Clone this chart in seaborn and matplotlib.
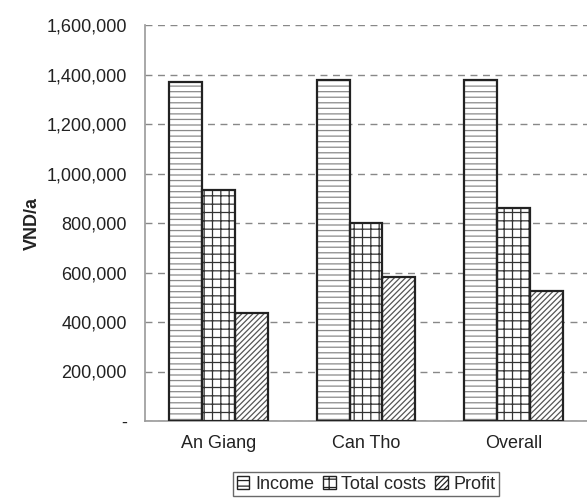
import matplotlib
matplotlib.use("Agg")
import matplotlib.pyplot as plt
import matplotlib.patches as mpatches
import seaborn as sns
import pandas as pd
from matplotlib.ticker import FuncFormatter, FixedLocator

categories = ["An Giang", "Can Tho", "Overall"]
series = ["Income", "Total costs", "Profit"]
income = [1371000, 1376000, 1377000]
total_costs = [933000, 800000, 859000]
profit = [438000, 580000, 524000]
y_ticks = [0, 200000, 400000, 600000, 800000, 1000000, 1200000, 1400000, 1600000]

rows = []
for s, vals in zip(series, [income, total_costs, profit]):
    for c, v in zip(categories, vals):
        rows.append({"Region": c, "Series": s, "Value": v})
df = pd.DataFrame(rows)

sns.set_theme(style="white")
plt.rcParams['font.family'] = ['Liberation Sans', 'DejaVu Sans']
plt.rcParams['hatch.linewidth'] = 0.9

fig = plt.figure(figsize=(5.87, 4.98), dpi=100)
ax = fig.add_axes([145/587, 1 - 421/498, 442/587, (421-25)/498])

sns.barplot(data=df, x="Region", y="Value", hue="Series", order=categories,
            hue_order=series, palette=["white"]*3, width=0.67, saturation=1,
            edgecolor="#222222", linewidth=0, legend=False, ax=ax, zorder=3)

hatches = ["---", "++", "//////"]
hcolors = ["#8a8a8a", "#333333", "#555555"]
for cont, h, hc in zip(ax.containers, hatches, hcolors):
    for p in cont:
        p.set_hatch(h)
        p.set_edgecolor(hc)
        p.set_linewidth(0)
        outline = mpatches.Rectangle(p.get_xy(), p.get_width(), p.get_height(),
                                     fill=False, edgecolor="#222222", linewidth=1.6,
                                     zorder=4)
        ax.add_patch(outline)

ax.set_ylim(0, 1600000)
ax.set_xlim(-0.5, 2.5)
ax.yaxis.set_major_locator(FixedLocator(y_ticks))
ax.yaxis.set_major_formatter(FuncFormatter(lambda v, p: "-" if v == 0 else f"{int(v):,}"))
ax.yaxis.grid(True, linestyle=(0, (5, 4)), color="#888888", linewidth=1.0, zorder=0)
ax.xaxis.grid(False)
ax.set_axisbelow(True)

for s in ["top", "right"]:
    ax.spines[s].set_visible(False)
ax.spines["left"].set_color("#999999")
ax.spines["bottom"].set_color("#999999")
ax.spines["left"].set_linewidth(1.2)
ax.spines["bottom"].set_linewidth(1.2)

ax.tick_params(axis="y", which="major", direction="out", length=4, width=1,
               color="#777777", labelsize=13, labelcolor="#222222", pad=9)
ax.set_xticks([0, 1, 2])
ax.set_xticklabels(categories)
ax.set_xticks([-0.5, 0.5, 1.5, 2.5], minor=True)
ax.tick_params(axis="x", which="major", length=0, labelsize=13, labelcolor="#222222", pad=10)
ax.tick_params(axis="x", which="minor", direction="out", length=4, width=1, color="#777777")

ax.set_xlabel("")
ax.set_ylabel("VND/a", fontsize=13, fontweight="bold", color="#222222", labelpad=4)

handles = []
for h, hc in zip(hatches, hcolors):
    handles.append(mpatches.Patch(facecolor="white", edgecolor="#222222", hatch=h,
                                  linewidth=1.0))
leg = fig.legend(handles, series, loc="lower center", bbox_to_anchor=(366/587, 0.0),
                 ncol=3, frameon=True, fancybox=False, fontsize=13, handlelength=0.7,
                 handleheight=0.7, handletextpad=0.3, columnspacing=0.5,
                 borderpad=0.2, borderaxespad=0.1, edgecolor="#444444")
leg.get_frame().set_linewidth(1.0)

fig.savefig("out.png", dpi=100)
